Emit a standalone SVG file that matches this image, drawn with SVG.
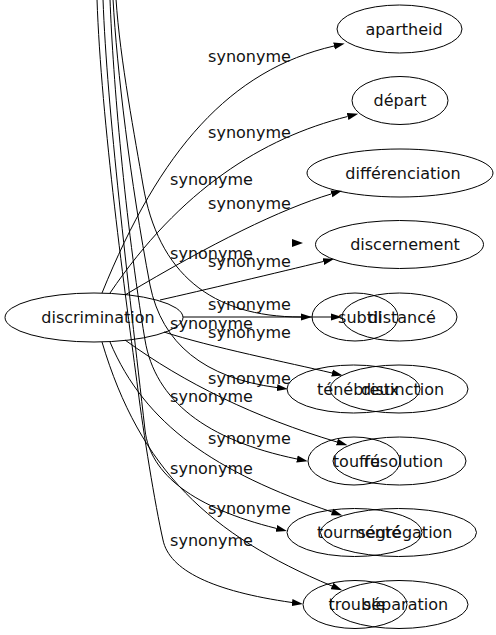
<svg xmlns="http://www.w3.org/2000/svg" width="496" height="635" viewBox="0 0 496 635">
<defs>
<marker id="arr" viewBox="0 0 11 8" markerWidth="11" markerHeight="8" refX="0" refY="4" orient="auto" markerUnits="userSpaceOnUse"><path d="M0,0.5 L11,4 L0,7.5 Z" fill="#000"/></marker>
<style>
.node ellipse{fill:none;stroke:#000;stroke-width:1}
.node text,.edge text{font-family:"DejaVu Sans",Verdana,sans-serif;font-size:16px;text-anchor:middle;fill:#111}
.edge path{fill:none;stroke:#000;stroke-width:1;marker-end:url(#arr)}
.lone{fill:#000}
</style>
</defs>
<rect width="496" height="635" fill="#fff"/>
<g id="edges">
  <g class="edge" id="e-apartheid"><path d="M102,293 C160,150 230,70 334,46"/><text x="249.5" y="61.5">synonyme</text></g>
  <g class="edge" id="e-depart"><path d="M110,293 C180,190 262,138 347.6,116.5"/><text x="249.5" y="138">synonyme</text></g>
  <g class="edge" id="e-differenciation"><path d="M125,295 C212,243 281,209 331.4,193.9"/><text x="249.5" y="208.5">synonyme</text></g>
  <g class="edge" id="e-discernement"><path d="M160,300 C200,291 280,272 323.3,261.5"/><text x="249.5" y="266.5">synonyme</text></g>
  <g class="edge" id="e-distance"><path d="M183,317 L331,317"/><text x="249.5" y="310">synonyme</text></g>
  <g class="edge" id="e-distinction"><path d="M164,332 C210,347 290,363 332,373"/><text x="249.5" y="338">synonyme</text></g>
  <g class="edge" id="e-resolution"><path d="M125,340 C184.7,383.5 255.5,417.6 337,442"/><text x="249.5" y="383.5">synonyme</text></g>
  <g class="edge" id="e-segregation"><path d="M110,342 C145,425 215,472 332,512"/><text x="249.5" y="443.5">synonyme</text></g>
  <g class="edge" id="e-separation"><path d="M102,342 C140,470 210,535 332,586"/><text x="249.5" y="514">synonyme</text></g>
  <g class="edge" id="e-lone"><polygon class="lone" points="292,239 303,243 292,247"/><text x="211.5" y="185">synonyme</text></g>
  <g class="edge" id="e-subtil"><path d="M116,-1 C120,60 135.4,140 143,185 C158,273 211,317 301,317"/><text x="211.5" y="258.5">synonyme</text></g>
  <g class="edge" id="e-tenebreux"><path d="M113,-1 C117,70 130,180 150,285 C161.8,343.8 204.4,378 277,387.6"/><text x="211.5" y="329">synonyme</text></g>
  <g class="edge" id="e-touffu"><path d="M110,-1 C113,80 125,220 145,340 C155.1,400.5 206.2,440.2 297,459"/><text x="211.5" y="401.5">synonyme</text></g>
  <g class="edge" id="e-tourmente"><path d="M103,-1 C107,110 128,280 145,430 C150.1,474.9 194.2,507.8 276.3,528.4"/><text x="211.5" y="473.5">synonyme</text></g>
  <g class="edge" id="e-trouble"><path d="M97,-1 C101,120 126,300 138,390 C143,430 155,505 163,540 C169.3,570.3 212.6,591.2 292,602.5"/><text x="211.5" y="545.5">synonyme</text></g>
</g>
<g class="node" id="n-discrimination"><ellipse cx="94" cy="317.5" rx="89" ry="24.5"/><text x="98" y="323">discrimination</text></g>
<g class="node" id="n-apartheid"><ellipse cx="399.5" cy="29" rx="62.5" ry="24"/><text x="404" y="34.5">apartheid</text></g>
<g class="node" id="n-depart"><ellipse cx="400" cy="100.5" rx="48" ry="24"/><text x="400" y="106">départ</text></g>
<g class="node" id="n-differenciation"><ellipse cx="400" cy="173" rx="93" ry="24"/><text x="403" y="178.5">différenciation</text></g>
<g class="node" id="n-discernement"><ellipse cx="399.5" cy="244.5" rx="84" ry="24"/><text x="405" y="250">discernement</text></g>
<g class="node" id="n-subtil"><ellipse cx="355" cy="317" rx="43" ry="24"/><text x="360" y="322.5">subtil</text></g>
<g class="node" id="n-distance"><ellipse cx="399.5" cy="317" rx="57.5" ry="24"/><text x="402" y="322.5">distancé</text></g>
<g class="node" id="n-tenebreux"><ellipse cx="353.5" cy="389" rx="66.5" ry="24"/><text x="358" y="394.5">ténébreux</text></g>
<g class="node" id="n-distinction"><ellipse cx="399" cy="389" rx="69" ry="24"/><text x="402.5" y="394.5">distinction</text></g>
<g class="node" id="n-touffu"><ellipse cx="354" cy="461" rx="46" ry="24"/><text x="356.5" y="466.5">touffu</text></g>
<g class="node" id="n-resolution"><ellipse cx="399.5" cy="461" rx="66.5" ry="24"/><text x="403.5" y="466.5">résolution</text></g>
<g class="node" id="n-tourmente"><ellipse cx="354.5" cy="532.5" rx="67.5" ry="24"/><text x="359" y="538">tourmenté</text></g>
<g class="node" id="n-segregation"><ellipse cx="398.5" cy="532.5" rx="78" ry="24"/><text x="405" y="538">ségrégation</text></g>
<g class="node" id="n-trouble"><ellipse cx="355" cy="604.5" rx="52" ry="24"/><text x="357" y="610">trouble</text></g>
<g class="node" id="n-separation"><ellipse cx="399" cy="604.5" rx="69" ry="24"/><text x="405.5" y="610">séparation</text></g>
</svg>
